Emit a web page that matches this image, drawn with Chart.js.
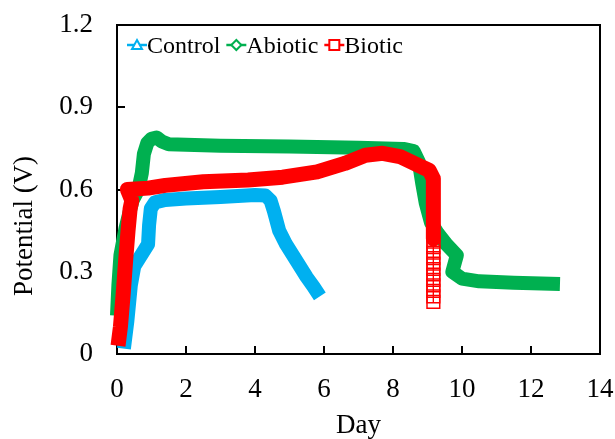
<!DOCTYPE html>
<html>
<head>
<meta charset="UTF-8">
<title>Potential</title>
<script src="https://cdn.jsdelivr.net/npm/chart.js"></script>
<style>
html, body { margin: 0; padding: 0; background: #fff; }
</style>
</head>
<body>
<canvas id="potChart" width="615" height="439"></canvas>
<script>
// values
var seriesNames = ['Control', 'Abiotic', 'Biotic'];
var seriesColors = ['#00B0F0', '#00B050', '#FF0000'];

var controlDay = [0.2, 0.3, 0.4, 0.5, 0.65, 0.8, 0.9, 0.93, 0.98, 1.1, 1.4, 2, 3, 4, 4.3, 4.45, 4.55, 4.7, 4.9, 5.1, 5.3, 5.5, 5.7, 5.88];
var controlV   = [0.02, 0.12, 0.25, 0.32, 0.35, 0.38, 0.4, 0.47, 0.53, 0.553, 0.562, 0.567, 0.573, 0.58, 0.578, 0.56, 0.52, 0.45, 0.4, 0.36, 0.32, 0.28, 0.245, 0.21];

var abioticDay = [0, 0.04, 0.1, 0.25, 0.45, 0.62, 0.72, 0.78, 0.88, 1.0, 1.15, 1.3, 1.5, 3, 5, 7, 8.3, 8.6, 8.75, 8.85, 8.95, 9.1, 9.3, 9.55, 9.85, 9.72, 10, 10.5, 11.5, 12.84];
var abioticV   = [0.14, 0.25, 0.36, 0.46, 0.56, 0.6, 0.66, 0.73, 0.77, 0.785, 0.79, 0.775, 0.765, 0.76, 0.757, 0.752, 0.748, 0.74, 0.7, 0.62, 0.55, 0.48, 0.44, 0.4, 0.36, 0.3, 0.275, 0.265, 0.26, 0.255];

var bioticDay = [0.03, 0.1, 0.18, 0.25, 0.32, 0.38, 0.43, 0.3, 0.9, 1.4, 2.5, 3.8, 4.8, 5.8, 6.6, 7.2, 7.7, 8.2, 8.7, 9.05, 9.17, 9.17,
                 9.17, 9.17, 9.17, 9.17, 9.17, 9.17, 9.17, 9.17, 9.17, 9.17, 9.17, 9.17];
var bioticV   = [0.03, 0.1, 0.22, 0.34, 0.45, 0.53, 0.56, 0.6, 0.605, 0.615, 0.628, 0.635, 0.645, 0.664, 0.695, 0.725, 0.732, 0.72, 0.69, 0.67, 0.64, 0.42,
                 0.41, 0.39, 0.37, 0.35, 0.33, 0.31, 0.29, 0.27, 0.25, 0.23, 0.21, 0.19];
var bioticTailStart = 22; // from here on only square markers

var xTicks = [0, 2, 4, 6, 8, 10, 12, 14];
var yTicks = [0, 0.3, 0.6, 0.9, 1.2];

var serif = '"Liberation Serif", "Times New Roman", serif';

function toPoints(xs, ys){
    var pts = [];
    for(var i = 0; i < xs.length; i++){
        pts.push({x: xs[i], y: ys[i]});
    }
    return pts;
}

// frame box and inward tick marks
var framePlugin = {
    id: 'frame',
    beforeDatasetsDraw: function(chart){
        var ctx = chart.ctx, a = chart.chartArea;
        var xs = chart.scales.x, ys = chart.scales.y;
        ctx.save();
        ctx.strokeStyle = '#000';
        ctx.lineWidth = 2;
        ctx.strokeRect(a.left, a.top, a.right - a.left, a.bottom - a.top);
        ctx.beginPath();
        xTicks.slice(1, -1).forEach(function(v){
            var px = Math.round(xs.getPixelForValue(v));
            ctx.moveTo(px, a.bottom);
            ctx.lineTo(px, a.bottom - 8);
        });
        yTicks.slice(1, -1).forEach(function(v){
            var py = Math.round(ys.getPixelForValue(v));
            ctx.moveTo(a.left, py);
            ctx.lineTo(a.left + 8, py);
        });
        ctx.stroke();
        ctx.restore();
    },
    afterDraw: function(chart){
        // y axis title, sits a bit below the middle of the axis
        var ctx = chart.ctx;
        ctx.save();
        ctx.fillStyle = '#000';
        ctx.font = '27px ' + serif;
        ctx.textAlign = 'center';
        ctx.textBaseline = 'alphabetic';
        ctx.translate(32, 226);
        ctx.rotate(-Math.PI / 2);
        ctx.fillText('Potential (V)', 0, 0);
        ctx.restore();
    }
};

// legend inside the plot: line + open marker + label
var legendPlugin = {
    id: 'insideLegend',
    afterDraw: function(chart){
        var ctx = chart.ctx;
        var x = 127, y = 45;
        ctx.save();
        ctx.font = '24px ' + serif;
        ctx.textBaseline = 'alphabetic';
        chart.data.datasets.forEach(function(ds){
            var c = ds.borderColor, m = ds.legendMarker;
            ctx.strokeStyle = c;
            ctx.lineWidth = 2.5;
            ctx.beginPath();
            ctx.moveTo(x, y);
            ctx.lineTo(x + 20, y);
            ctx.stroke();
            ctx.lineWidth = 2;
            ctx.fillStyle = '#fff';
            var cx = x + 10;
            ctx.beginPath();
            if(m === 'triangle'){
                ctx.moveTo(cx, y - 5);
                ctx.lineTo(cx + 5, y + 4);
                ctx.lineTo(cx - 5, y + 4);
                ctx.closePath();
            } else if(m === 'rectRot'){
                ctx.moveTo(cx, y - 5);
                ctx.lineTo(cx + 5, y);
                ctx.lineTo(cx, y + 5);
                ctx.lineTo(cx - 5, y);
                ctx.closePath();
            } else {
                ctx.rect(cx - 5, y - 5, 10, 10);
            }
            ctx.fill();
            ctx.stroke();
            ctx.fillStyle = '#000';
            ctx.fillText(ds.label, x + 20, y + 8);
            x += 20 + ctx.measureText(ds.label).width + 6;
        });
        ctx.restore();
    }
};

var potChart = new Chart(document.getElementById('potChart').getContext('2d'), {
    type: 'scatter',
    data: {
        datasets: [{
            label: seriesNames[0],
            legendMarker: 'triangle',
            data: toPoints(controlDay, controlV),
            borderColor: seriesColors[0],
            backgroundColor: seriesColors[0],
            showLine: true,
            borderWidth: 14,
            borderJoinStyle: 'round',
            pointRadius: 0,
            clip: false,
            order: 2
        }, {
            label: seriesNames[1],
            legendMarker: 'rectRot',
            data: toPoints(abioticDay, abioticV),
            borderColor: seriesColors[1],
            backgroundColor: seriesColors[1],
            showLine: true,
            borderWidth: 14,
            borderJoinStyle: 'round',
            pointRadius: 0,
            clip: false,
            order: 1
        }, {
            label: seriesNames[2],
            legendMarker: 'rect',
            data: toPoints(bioticDay, bioticV),
            borderColor: seriesColors[2],
            backgroundColor: seriesColors[2],
            showLine: true,
            borderWidth: 15,
            borderJoinStyle: 'round',
            segment: {
                borderWidth: function(ctx){ return ctx.p0DataIndex >= bioticTailStart - 1 ? 1 : 15; }
            },
            pointStyle: 'rect',
            pointRadius: function(ctx){ return ctx.dataIndex >= bioticTailStart ? 9 : 0; },
            pointBorderWidth: 1.5,
            pointBorderColor: seriesColors[2],
            pointBackgroundColor: 'rgba(255,255,255,0)',
            clip: false,
            order: 0
        }]
    },
    options: {
        responsive: false,
        animation: false,
        events: [],
        layout: {
            padding: {top: 25, right: 15, left: 0, bottom: 0}
        },
        scales: {
            x: {
                type: 'linear',
                min: 0,
                max: 14,
                afterFit: function(s){ s.height = 85; s.paddingLeft = 0; s.paddingRight = 0; },
                grid: {display: false, drawTicks: false},
                border: {display: false},
                ticks: {
                    stepSize: 2,
                    padding: 20,
                    color: '#000',
                    font: {family: serif, size: 27}
                },
                title: {
                    display: true,
                    text: 'Day',
                    color: '#000',
                    font: {family: serif, size: 27, lineHeight: 1},
                    padding: 0
                }
            },
            y: {
                min: 0,
                max: 1.2,
                afterFit: function(s){ s.width = 117; s.paddingTop = 0; s.paddingBottom = 0; },
                grid: {display: false, drawTicks: false},
                border: {display: false},
                ticks: {
                    stepSize: 0.3,
                    padding: 24,
                    color: '#000',
                    font: {family: serif, size: 27},
                    callback: function(v){ return v === 0 ? '0' : Number(v).toFixed(1); }
                }
            }
        },
        plugins: {
            legend: {display: false},
            tooltip: {enabled: false}
        }
    },
    plugins: [framePlugin, legendPlugin]
});
</script>
</body>
</html>
